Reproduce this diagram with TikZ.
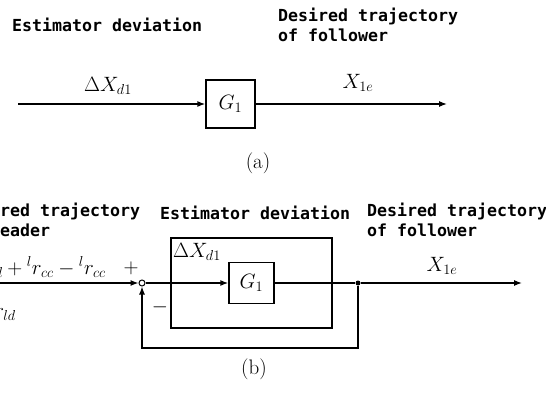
\documentclass[tikz,border=0pt]{standalone}
\usepackage{amsmath}
\usepackage{fontspec}
\setmonofont{DejaVu Sans Mono}
\usepackage{tikz}
\usetikzlibrary{positioning, arrows.meta, calc}

\tikzset{
  hdr/.style={font=\fontsize{16.6}{20}\selectfont\ttfamily\bfseries, align=left, inner sep=0pt},
  mth/.style={font=\fontsize{22}{26}\selectfont, inner sep=0pt},
  subcap/.style={font=\fontsize{21}{25}\selectfont, inner sep=0pt},
  blk/.style={draw, line width=1.3pt, inner sep=0pt},
  sig/.style={line width=1.3pt, -{Latex[length=8pt, width=6pt]}},
  wire/.style={line width=1.3pt},
}

\begin{document}
\begin{tikzpicture}[x=1pt, y=1pt]
        \useasboundingbox (0,0) rectangle (546,394);
        \clip (0,0) rectangle (546,394);
        % (a) open chain
        \node[hdr, anchor=west] (hda) at (12,369) {Estimator deviation};
        \node[hdr, anchor=north west] (hfa) at (278,386) {Desired trajectory\\of follower};
        \coordinate (ain) at (18,290);
        \node[blk, minimum width=49pt, minimum height=48pt] (ga) at (230.5,290) {};
        \node[mth] (gal) at (ga.center) {$G_1$};
        \coordinate (aout) at (447,290);
        \draw[sig] (ain) -- (ga.west);
        \draw[sig] (ga.east) -- (aout);
        \node[mth] (dxa) at (108,308) {$\Delta X_{d1}$};
        \node[mth] (xa) at (358,311) {$X_{1e}$};
        \node[subcap] (capa) at (258,231) {(a)};
        % (b) loop with feedback
        \node[hdr, anchor=north west] (hlb) at (-40,191) {Desired trajectory\\of leader};
        \node[hdr, anchor=west] (hdb) at (160,181) {Estimator deviation};
        \node[hdr, anchor=north west] (hfb) at (367,191) {Desired trajectory\\of follower};
        \coordinate (bin) at (-5,111);
        \node[draw, circle, line width=1pt, fill=white, minimum size=6pt, inner sep=0pt] (sum) at (142,111) {};
        \node[draw, line width=1.3pt, minimum width=161pt, minimum height=90pt] (est) at (251.5,111) {};
        \node[blk, minimum width=45pt, minimum height=41pt] (gb) at (251.5,111) {};
        \node[mth] (gbl) at (gb.center) {$G_1$};
        \node[circle, fill, inner sep=0pt, minimum size=5pt] (br) at (358,111) {};
        \coordinate (bout) at (522,111);
        \coordinate (fbr) at (358,46);
        \coordinate (fbl) at (142,46);
        \draw[sig] (bin) -- (sum.west);
        \draw[sig] (sum.east) -- (gb.west);
        \draw[wire] (gb.east) -- (br);
        \draw[sig] (br) -- (bout);
        \draw[sig] (br) -- (fbr) -- (fbl) -- (sum.south);
        \node[mth, anchor=east] (rin) at (106,127) {$^{l}r_{ld}+{}^{l}r_{cc}-{}^{l}r_{cc}$};
        \node[mth, anchor=east] (rlo) at (16,84) {$^{l}r_{ld}$};
        \node[mth] (pl) at (131,126) {$+$};
        \node[mth] (mi) at (160,87) {$-$};
        \node[mth] (dxb) at (197,142) {$\Delta X_{d1}$};
        \node[mth] (xb) at (442,128) {$X_{1e}$};
        \node[subcap] (capb) at (254,25) {(b)};
      \end{tikzpicture}
\end{document}
